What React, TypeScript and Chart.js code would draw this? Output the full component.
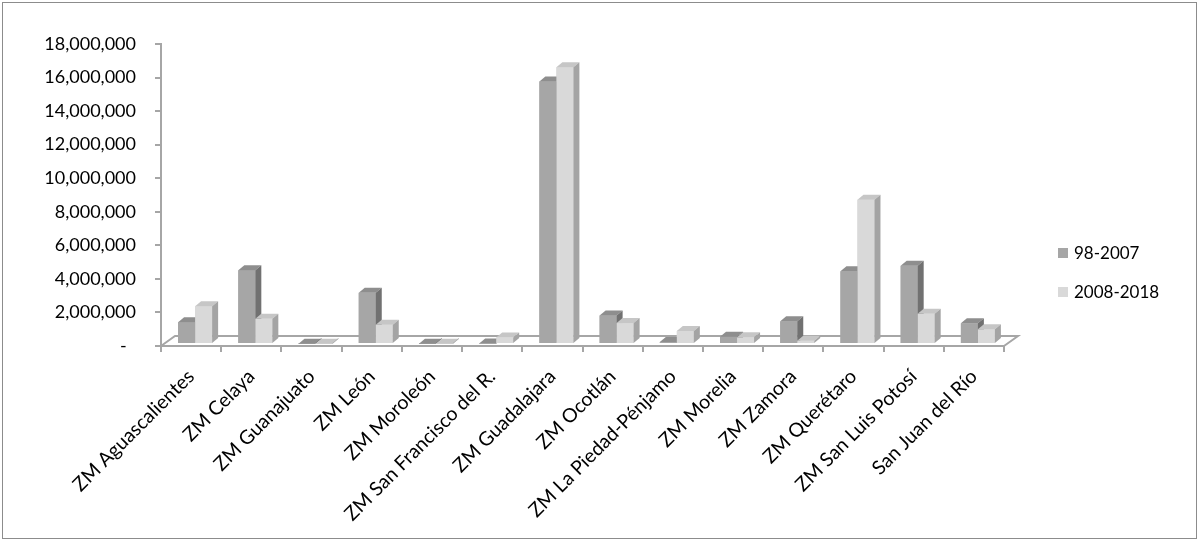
import React, { useEffect, useRef } from 'react';
import { Chart, registerables } from 'chart.js';

Chart.register(...registerables);

const categories = [
  'ZM Aguascalientes',
  'ZM Celaya',
  'ZM Guanajuato',
  'ZM León',
  'ZM Moroleón',
  'ZM San Francisco del R.',
  'ZM Guadalajara',
  'ZM Ocotlán',
  'ZM La Piedad-Pénjamo',
  'ZM Morelia',
  'ZM Zamora',
  'ZM Querétaro',
  'ZM San Luis Potosí',
  'San Juan del Río',
];

const seriesNames = ['98-2007', '2008-2018'];

const values9807 = [
  1300000, 4400000, 20000, 3050000, 20000, 30000, 15650000,
  1700000, 120000, 430000, 1350000, 4330000, 4660000, 1230000,
];

const values0818 = [
  2250000, 1500000, 20000, 1150000, 20000, 380000, 16500000,
  1250000, 780000, 400000, 200000, 8600000, 1800000, 880000,
];

const yMax = 18000000;
const yStep = 2000000;

const FONT = 'Lato, "Open Sans", sans-serif';

const faceColors = [
  { front: '#a6a6a6', top: '#8e8e8e', side: '#717171' },
  { front: '#d9d9d9', top: '#c6c6c6', side: '#a4a4a4' },
];

const DX = 6;
const DY = -5;
const FLOOR_DX = 14;
const FLOOR_DY = -10;
const SHIFT_X = 4;
const SHIFT_Y = -2;

const bars3d = {
  id: 'bars3d',
  beforeDatasetsDraw(chart: any) {
    const { ctx, chartArea } = chart;
    const { left, right, bottom } = chartArea;
    ctx.save();
    ctx.strokeStyle = '#a6a6a6';
    ctx.lineWidth = 2;
    ctx.beginPath();
    ctx.moveTo(left, bottom);
    ctx.lineTo(left + FLOOR_DX, bottom + FLOOR_DY);
    ctx.lineTo(right + FLOOR_DX, bottom + FLOOR_DY);
    ctx.lineTo(right, bottom);
    ctx.stroke();
    ctx.restore();
    ctx.save();
    ctx.translate(SHIFT_X, SHIFT_Y);
  },
  afterDatasetsDraw(chart: any) {
    const ctx = chart.ctx;
    const n = chart.data.labels.length;
    for (let i = 0; i < n; i++) {
      for (let d = 0; d < chart.data.datasets.length; d++) {
        const el = chart.getDatasetMeta(d).data[i];
        if (!el) continue;
        const { x, y, base, width } = el.getProps(['x', 'y', 'base', 'width'], true);
        const l = x - width / 2;
        const r = x + width / 2;
        const c = faceColors[d];
        ctx.fillStyle = c.front;
        ctx.fillRect(l, y, width, base - y);
        ctx.fillStyle = c.top;
        ctx.beginPath();
        ctx.moveTo(l, y);
        ctx.lineTo(l + DX, y + DY);
        ctx.lineTo(r + DX, y + DY);
        ctx.lineTo(r, y);
        ctx.closePath();
        ctx.fill();
        ctx.fillStyle = c.side;
        ctx.beginPath();
        ctx.moveTo(r, y);
        ctx.lineTo(r + DX, y + DY);
        ctx.lineTo(r + DX, base + DY);
        ctx.lineTo(r, base);
        ctx.closePath();
        ctx.fill();
      }
    }
    ctx.restore();
  },
};

function formatNum(v: number): string {
  if (v === 0) return '-  ';
  return v.toLocaleString('en-US');
}

export default function App() {
  const canvasRef = useRef<HTMLCanvasElement | null>(null);

  useEffect(() => {
    document.body.style.margin = '0';
    const canvas = canvasRef.current;
    if (!canvas) return;
    const chart = new Chart(canvas, {
      type: 'bar',
      data: {
        labels: categories,
        datasets: [
          {
            label: seriesNames[0],
            data: values9807,
            backgroundColor: faceColors[0].front,
            categoryPercentage: 0.565,
            barPercentage: 1,
          },
          {
            label: seriesNames[1],
            data: values0818,
            backgroundColor: faceColors[1].front,
            categoryPercentage: 0.565,
            barPercentage: 1,
          },
        ],
      },
      options: {
        responsive: false,
        animation: false,
        events: [],
        layout: { padding: { left: 0, right: 194, top: 44, bottom: 0 } },
        plugins: {
          legend: { display: false },
          tooltip: { enabled: false },
        },
        scales: {
          x: {
            offset: true,
            grid: {
              display: true,
              drawOnChartArea: false,
              offset: true,
              tickLength: 6,
              color: '#a6a6a6',
              lineWidth: 2,
            },
            border: { display: true, color: '#a6a6a6', width: 2 },
            ticks: {
              autoSkip: false,
              minRotation: 45,
              maxRotation: 45,
              padding: 13,
              color: '#000',
              font: { family: FONT, size: 19.5 },
            },
            afterFit(scale: any) {
              scale.height = 194;
            },
          },
          y: {
            min: 0,
            max: yMax,
            grid: {
              display: true,
              drawOnChartArea: false,
              tickLength: 6,
              color: '#a6a6a6',
              lineWidth: 2,
            },
            border: { display: true, color: '#a6a6a6', width: 2 },
            ticks: {
              stepSize: yStep,
              padding: 19,
              color: '#000',
              font: { family: FONT, size: 18 },
              callback: (v: any) => formatNum(Number(v)),
            },
            afterFit(scale: any) {
              scale.width = 161;
            },
          },
        },
      },
      plugins: [bars3d],
    });
    return () => chart.destroy();
  }, []);

  const legendItem = (i: number, top: number) => (
    <div
      style={{
        position: 'absolute',
        left: 1058,
        top,
        display: 'flex',
        alignItems: 'center',
        fontFamily: FONT,
        fontSize: 17,
        color: '#000',
        whiteSpace: 'nowrap',
      }}
    >
      <span
        style={{
          display: 'inline-block',
          width: 10,
          height: 10,
          background: faceColors[i].front,
          marginRight: 6,
        }}
      />
      <span>{seriesNames[i]}</span>
    </div>
  );

  return (
    <div style={{ position: 'relative', width: 1198, height: 540, background: '#fff' }}>
      <canvas ref={canvasRef} width={1198} height={540} style={{ display: 'block' }} />
      <div
        style={{
          position: 'absolute',
          left: 2,
          top: 2,
          width: 1193,
          height: 535,
          border: '1px solid #8c8c8c',
          pointerEvents: 'none',
        }}
      />
      {legendItem(0, 242)}
      {legendItem(1, 281)}
    </div>
  );
}
